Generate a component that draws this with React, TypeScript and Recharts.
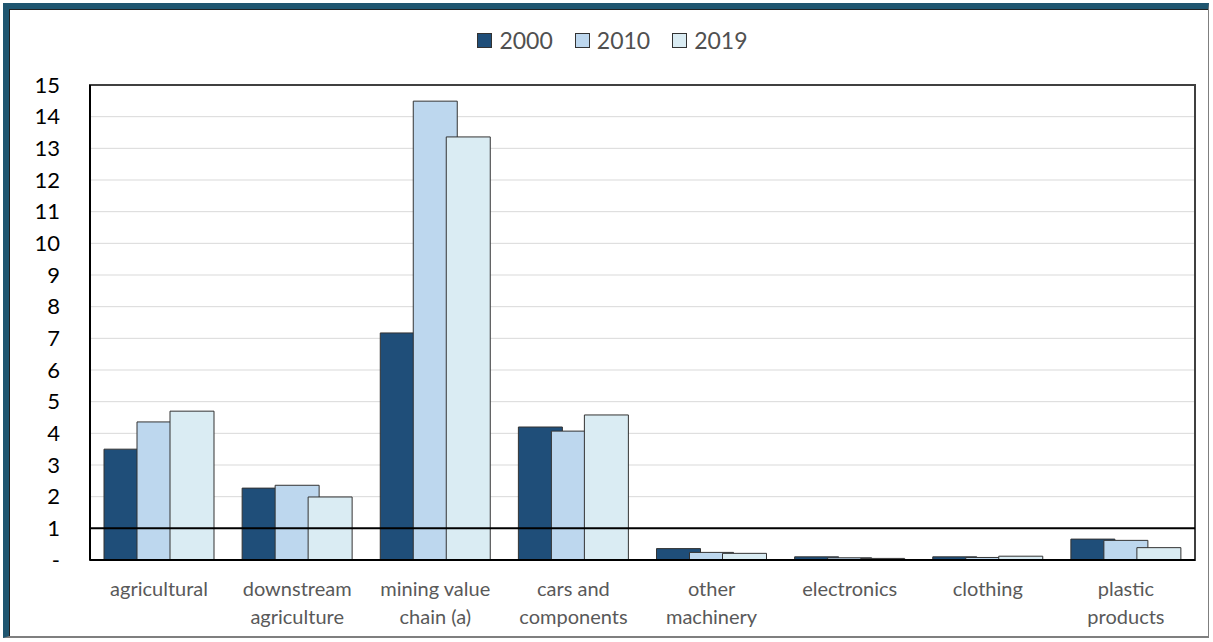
import React from "react";
import { BarChart, Bar, XAxis, YAxis, CartesianGrid, ReferenceLine, ReferenceArea, Legend } from "recharts";

// categories and yearly values
const categories = [
  "agricultural",
  "downstream\nagriculture",
  "mining value\nchain (a)",
  "cars and\ncomponents",
  "other\nmachinery",
  "electronics",
  "clothing",
  "plastic\nproducts",
];
const values2000 = [3.5, 2.27, 7.17, 4.2, 0.36, 0.1, 0.1, 0.66];
const values2010 = [4.36, 2.36, 14.49, 4.07, 0.24, 0.07, 0.08, 0.62];
const values2019 = [4.7, 1.99, 13.36, 4.58, 0.21, 0.05, 0.12, 0.39];
const yTicks = [0, 1, 2, 3, 4, 5, 6, 7, 8, 9, 10, 11, 12, 13, 14, 15];

const series = [
  { key: "y2000", label: "2000", fill: "#1F4E79" },
  { key: "y2010", label: "2010", fill: "#BDD7EE" },
  { key: "y2019", label: "2019", fill: "#DAECF3" },
];

const data = categories.map((name, i) => ({
  name,
  y2000: values2000[i],
  y2010: values2010[i],
  y2019: values2019[i],
}));

const FONT = "Lato, 'Open Sans', sans-serif";

const CategoryTick = ({ x, y, payload }: any) => {
  const lines = String(payload.value).split("\n");
  return (
    <text x={x} y={y} textAnchor="middle" fill="#595959" fontSize={20} fontFamily={FONT}>
      {lines.map((l, i) => (
        <tspan key={i} x={x} dy={i === 0 ? 36 : 28}>
          {l}
        </tspan>
      ))}
    </text>
  );
};

const LegendContent = () => (
  <div style={{ height: 30, display: "flex", justifyContent: "center", alignItems: "center", gap: 22, fontFamily: FONT, fontSize: 23, color: "#505050" }}>
    {series.map((s) => (
      <div key={s.key} style={{ display: "flex", alignItems: "center", gap: 7 }}>
        <span style={{ width: 13, height: 13, background: s.fill, border: "1px solid #333", display: "inline-block" }} />
        {s.label}
      </div>
    ))}
  </div>
);

export default function App() {
  return (
    <div style={{ position: "fixed", left: 0, top: 0, width: 1213, height: 642, background: "#fff" }}>
      {/* frame */}
      <div
        style={{
          position: "absolute",
          left: 3,
          top: 3,
          width: 1206,
          height: 635,
          borderTop: "6px solid #1F5670",
          borderLeft: "6px solid #1F5670",
          borderRight: "1px solid #7F7F7F",
          borderBottom: "2px solid #7F7F7F",
          boxSizing: "border-box",
        }}
      >
        <div style={{ position: "absolute", left: 0, top: 0, right: 0, bottom: 0, borderTop: "1px solid #222", borderLeft: "1px solid #222" }} />
      </div>
      <div style={{ position: "absolute", left: 0, top: 0 }}>
        <BarChart
          width={1213}
          height={642}
          data={data}
          margin={{ top: 55, right: 18, left: 30, bottom: 12 }}
          barSize={44}
          barGap={-11}
        >
          <Legend verticalAlign="top" content={<LegendContent />} wrapperStyle={{ top: 25 }} />
          <CartesianGrid vertical={false} stroke="#D9D9D9" strokeWidth={1} />
          <ReferenceArea y1={0} y2={15} fill="none" stroke="#404040" strokeWidth={2} />
          <XAxis
            dataKey="name"
            interval={0}
            height={70}
            tickLine={false}
            tickSize={0}
            tickMargin={0}
            axisLine={{ stroke: "#000", strokeWidth: 2 }}
            tick={<CategoryTick />}
          />
          <YAxis
            width={60}
            domain={[0, 15]}
            ticks={yTicks}
            interval={0}
            tickLine={false}
            tickSize={0}
            tickMargin={30}
            axisLine={{ stroke: "#000", strokeWidth: 2 }}
            tick={{ fontSize: 22, fill: "#000", fontFamily: FONT }}
            tickFormatter={(v) => (v === 0 ? "-" : String(v))}
          />
          {series.map((s) => (
            <Bar key={s.key} dataKey={s.key} name={s.label} fill={s.fill} stroke="#333" strokeWidth={1} isAnimationActive={false} />
          ))}
          <ReferenceLine y={1} stroke="#000" strokeWidth={2} />
        </BarChart>
      </div>
    </div>
  );
}
